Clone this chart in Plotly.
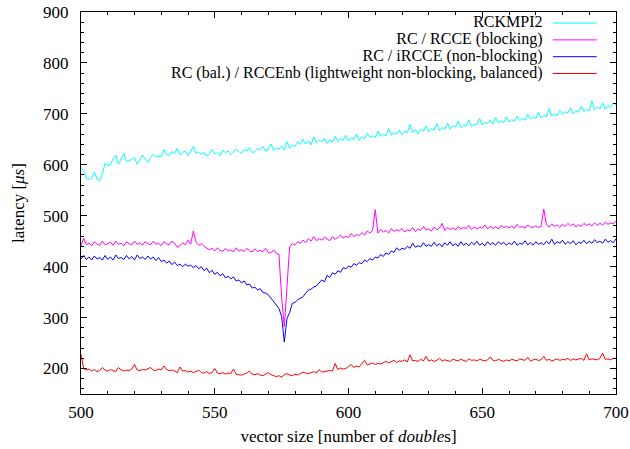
import plotly.graph_objects as go

x_values = list(range(500, 701))

rckmpi2 = [
    595, 588, 574, 571, 574, 586, 572, 568, 583, 603,
    598, 600, 612, 619, 601, 612, 623, 607, 608, 611,
    614, 601, 610, 619, 612, 605, 614, 621, 616, 617,
    616, 630, 620, 618, 626, 622, 633, 619, 624, 628,
    618, 626, 636, 622, 625, 620, 624, 617, 622, 630,
    621, 624, 618, 629, 624, 627, 620, 625, 631, 626,
    622, 630, 627, 634, 624, 626, 632, 629, 636, 627,
    630, 641, 628, 633, 631, 637, 629, 645, 633, 639,
    636, 645, 640, 650, 641, 647, 639, 655, 643, 648,
    645, 652, 642, 649, 644, 656, 646, 651, 648, 658,
    647, 653, 650, 660, 648, 655, 651, 662, 654, 657,
    653, 666, 656, 660, 657, 671, 658, 663, 660, 668,
    659, 666, 663, 679, 664, 669, 661, 670, 666, 676,
    665, 671, 668, 681, 667, 673, 670, 682, 670, 676,
    674, 686, 673, 678, 676, 688, 675, 679, 680, 691,
    678, 684, 681, 688, 680, 693, 683, 686, 683, 694,
    684, 689, 686, 695, 687, 691, 688, 699, 690, 694,
    691, 703, 692, 697, 694, 710, 696, 700, 697, 706,
    699, 704, 702, 712, 700, 706, 703, 715, 705, 709,
    706, 726, 708, 713, 710, 722, 709, 716, 713, 721,
    718,
]

rcce_blocking = [
    441, 456, 443, 446, 441, 449, 444, 442, 450, 443,
    445, 448, 442, 450, 444, 446, 441, 449, 445, 443,
    450, 444, 447, 442, 449, 445, 443, 450, 444, 446,
    441, 449, 445, 443, 450, 446, 438, 441, 447, 443,
    452, 444, 470, 448, 442, 445, 440, 437, 433, 436,
    431, 437, 432, 430, 436, 431, 433, 429, 437, 431,
    433, 430, 436, 431, 429, 435, 430, 432, 429, 436,
    428, 427, 433, 426, 424, 340, 282, 360, 440, 445,
    443, 449, 446, 452, 447, 455, 450, 459, 451, 455,
    452, 458, 455, 451, 459, 454, 457, 462, 456, 460,
    457, 465, 459, 463, 461, 467, 462, 470, 466, 471,
    512, 466, 473, 468, 471, 466, 475, 469, 473, 470,
    475, 468, 472, 470, 477, 469, 474, 471, 479, 472,
    474, 470, 478, 472, 476, 485, 471, 477, 473, 476,
    472, 479, 474, 477, 475, 481, 473, 478, 474, 477,
    476, 482, 474, 479, 475, 478, 474, 481, 477, 479,
    476, 480, 475, 483, 477, 479, 476, 482, 478, 477,
    480, 477, 479, 513, 482, 478, 484, 479, 482, 477,
    483, 479, 485, 480, 484, 478, 482, 479, 485, 481,
    484, 480, 486, 481, 485, 482, 487, 483, 486, 484,
    490,
]

ircce_nonblocking = [
    415, 422, 414, 419, 413, 421, 415, 418, 413, 422,
    414, 419, 413, 423, 416, 418, 414, 422, 415, 420,
    413, 423, 416, 419, 414, 421, 415, 419, 412, 418,
    410, 413, 407, 411, 404, 409, 402, 405, 400, 405,
    401, 403, 398, 402, 396, 400, 392, 397, 388, 393,
    385, 389, 382, 386, 378, 381, 376, 380, 372, 374,
    368, 372, 364, 366, 358, 360, 354, 357, 349, 348,
    345, 338, 333, 325, 318, 302, 252, 298, 310, 328,
    330, 335, 338, 341, 348, 354, 356, 360, 362, 368,
    374, 370, 383, 379, 388, 385, 392, 389, 398, 396,
    401, 399, 406, 403, 408, 406, 413, 410, 416, 413,
    419, 417, 424, 420, 427, 424, 431, 428, 437, 432,
    436, 434, 440, 436, 446, 438, 441, 439, 447, 440,
    443, 440, 448, 441, 445, 439, 447, 442, 449, 441,
    445, 440, 449, 442, 446, 441, 448, 443, 450, 442,
    446, 441, 449, 443, 447, 442, 449, 444, 448, 442,
    447, 443, 450, 442, 446, 444, 451, 443, 447, 442,
    449, 444, 447, 443, 450, 445, 454, 444, 449, 446,
    452, 444, 449, 445, 451, 443, 448, 446, 452, 445,
    450, 446, 453, 447, 450, 446, 454, 448, 451, 447,
    455,
]

rccenb_balanced = [
    228, 200, 197, 199, 195, 198, 194, 196, 202, 197,
    195, 198, 196, 194, 202, 197, 195, 197, 196, 199,
    208, 197, 196, 198, 197, 199, 202, 197, 196, 199,
    197, 205, 198, 196, 197, 195, 192, 203, 195, 196,
    193, 195, 192, 194, 197, 192, 191, 194, 190, 192,
    200, 191, 190, 192, 189, 191, 190, 199, 189, 188,
    187, 189, 191, 195, 189, 188, 190, 187, 186, 189,
    192, 188, 186, 184, 186, 183, 188, 190, 187, 186,
    189, 187, 190, 193, 191, 190, 192, 194, 191, 198,
    193, 194, 195, 196, 195, 210, 198, 201, 199, 200,
    204, 208, 202, 205, 203, 210, 216, 207, 209, 211,
    208, 210, 209, 212, 214, 211, 213, 216, 212, 215,
    214, 217, 213, 227, 215, 216, 214, 218, 215, 224,
    215, 217, 214, 216, 220, 215, 217, 216, 214, 218,
    216, 215, 218, 216, 214, 219, 216, 217, 215, 218,
    216, 215, 217, 223, 216, 215, 218, 216, 214, 217,
    215, 218, 216, 215, 219, 217, 216, 222, 215, 217,
    218, 216, 217, 224, 216, 218, 215, 217, 219, 216,
    218, 217, 220, 216, 219, 217, 218, 220, 216, 229,
    217, 219, 218, 217, 220, 230, 218, 219, 217, 220,
    220,
]

series_names = [
    "RCKMPI2",
    "RC / RCCE (blocking)",
    "RC / iRCCE (non-blocking)",
    "RC (bal.) / RCCEnb (lightweight non-blocking, balanced)",
]
series_values = [rckmpi2, rcce_blocking, ircce_nonblocking, rccenb_balanced]
series_colors = ["#00ffff", "#ff00ff", "#0000ff", "#ff0000"]

FONT = "Liberation Serif"

fig = go.Figure()
for name, vals, col in zip(series_names, series_values, series_colors):
    fig.add_trace(go.Scatter(x=x_values, y=vals, mode="lines", name=name,
                             line=dict(color=col, width=1), showlegend=False))

# gnuplot-style legend: right-aligned text block, line samples to the right
legend_text = "<br>".join('<span style="font-size:16px">%s</span>' % n for n in series_names)
fig.add_annotation(x=0.866, y=0.906, xref="paper", yref="paper", text=legend_text,
                   showarrow=False, xanchor="right", yanchor="middle", align="right",
                   borderpad=0, font=dict(family=FONT, size=13, color="black"))
leg_y = [0.971, 0.927, 0.883, 0.839]
for col, ly in zip(series_colors, leg_y):
    fig.add_shape(type="line", xref="paper", yref="paper", x0=0.882, x1=0.964,
                  y0=ly, y1=ly, line=dict(color=col, width=1))

axis_common = dict(showline=True, linecolor="black", linewidth=1, mirror="allticks",
                   ticks="inside", tickcolor="black", tickwidth=1, ticklen=6,
                   showgrid=False, zeroline=False, automargin=False,
                   tickfont=dict(family=FONT, size=17, color="black"))

fig.update_xaxes(range=[500, 700], tick0=500, dtick=50, ticklabelstandoff=3,
                 minor=dict(ticks="inside", dtick=10, ticklen=3, tickcolor="black", showgrid=False),
                 title=dict(text="vector size [number of <i>double</i>s]",
                            font=dict(family=FONT, size=17, color="black"), standoff=8),
                 **axis_common)
fig.update_yaxes(range=[150, 900], tick0=0, dtick=100, ticklabelstandoff=8,
                 minor=dict(ticks="inside", dtick=20, ticklen=3, tickcolor="black", showgrid=False),
                 title=dict(text="latency [<i>μs</i>]",
                            font=dict(family=FONT, size=17, color="black"), standoff=14),
                 **axis_common)

fig.update_layout(template="none", width=630, height=449,
                  margin=dict(l=81, r=14, t=12, b=55),
                  paper_bgcolor="white", plot_bgcolor="white",
                  font=dict(family=FONT, size=17, color="black"))

fig.write_html("out.html")
